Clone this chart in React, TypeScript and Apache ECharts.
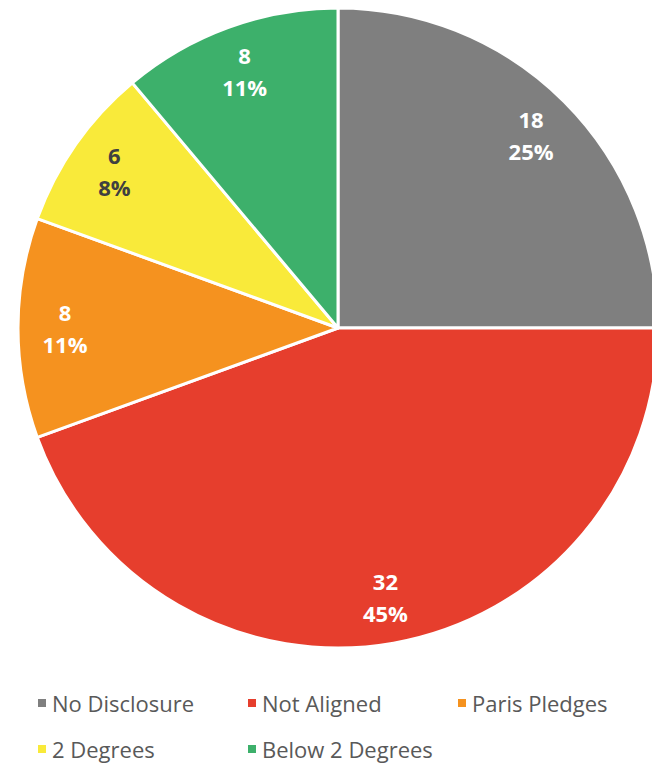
import React, { useEffect, useRef } from "react";
import * as echarts from "echarts";

const categories = ["No Disclosure", "Not Aligned", "Paris Pledges", "2 Degrees", "Below 2 Degrees"];
const counts = [18, 32, 8, 6, 8];
const colors = ["#7F7F7F", "#E63E2D", "#F5921F", "#F9EA3A", "#3DB06B"];
const labelColors = ["#FFFFFF", "#FFFFFF", "#FFFFFF", "#404040", "#FFFFFF"];
const legendLefts = [36, 246, 456, 36, 246];
const legendTops = [691, 691, 691, 737, 737];

const FONT = "'Open Sans', sans-serif";

export default function App() {
  const ref = useRef<HTMLDivElement>(null);
  useEffect(() => {
    if (!ref.current) return;
    const chart = echarts.init(ref.current, undefined, { renderer: "svg" });
    const data = categories.map((name, i) => ({
      name,
      value: counts[i],
      itemStyle: { color: colors[i] },
      label: { color: labelColors[i] },
    }));
    const legends = categories.map((name, i) => ({
      orient: "horizontal",
      left: legendLefts[i],
      top: legendTops[i],
      padding: 0,
      itemWidth: 10,
      itemHeight: 10,
      itemGap: 10,
      itemTextGap: 12,
      icon: "rect",
      selectedMode: false,
      textStyle: { fontFamily: FONT, fontSize: 22, lineHeight: 24, color: "#595959" },
      data: [name],
    }));
    chart.setOption({
      animation: false,
      backgroundColor: "#FFFFFF",
      legend: legends,
      series: [
        {
          type: "pie",
          center: [338, 328],
          radius: [0, 320],
          startAngle: 90,
          clockwise: true,
          percentPrecision: 0,
          silent: true,
          itemStyle: { borderColor: "#FFFFFF", borderWidth: 3 },
          label: { show: false },
          labelLine: { show: false },
          data,
        },
        {
          type: "pie",
          center: [338, 328],
          radius: [246, 294],
          startAngle: 90,
          clockwise: true,
          percentPrecision: 0,
          silent: true,
          legendHoverLink: false,
          itemStyle: { color: "rgba(0,0,0,0)", borderWidth: 0 },
          label: {
            show: true,
            position: "inside",
            formatter: "{c}\n{d}%",
            fontFamily: FONT,
            fontWeight: "bold",
            fontSize: 22,
            lineHeight: 32,
          },
          labelLine: { show: false },
          data: categories.map((name, i) => ({
            name,
            value: counts[i],
            itemStyle: { color: "rgba(0,0,0,0)" },
            label: { color: labelColors[i] },
          })),
        },
      ],
    });
    return () => chart.dispose();
  }, []);
  return (
    <div
      ref={ref}
      style={{ position: "fixed", left: 0, top: 0, width: 652, height: 764 }}
    />
  );
}
